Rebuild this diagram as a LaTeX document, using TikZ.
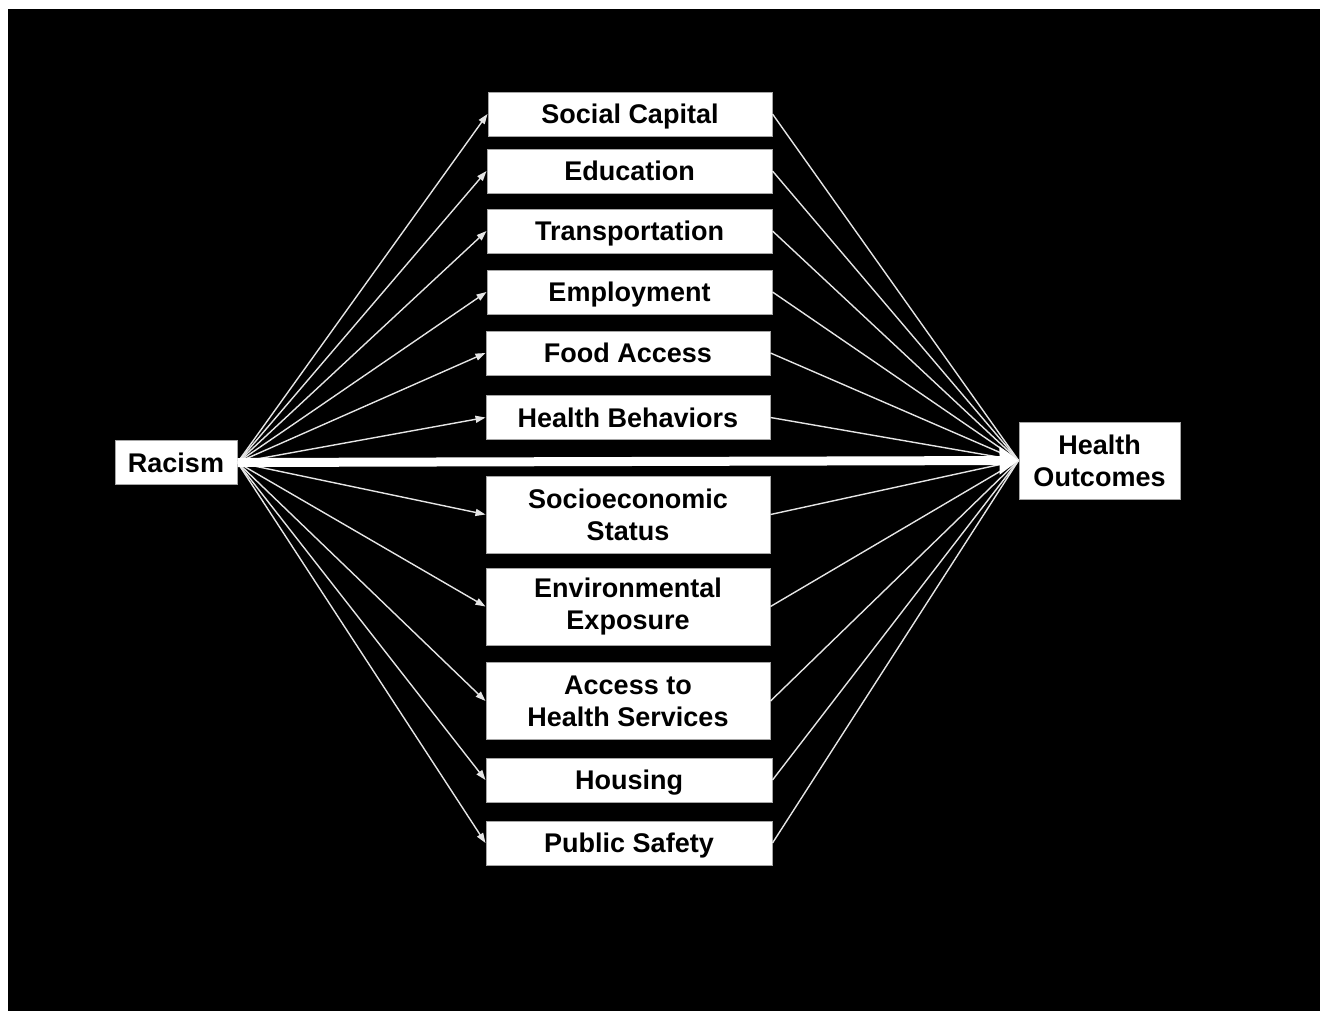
\documentclass[tikz,border=0pt]{standalone}
\usepackage{fontspec}
\setmainfont{Liberation Sans}
\usetikzlibrary{arrows.meta}
\begin{document}
\begin{tikzpicture}[x=1bp,y=-1bp,
  boxbase/.style={draw=gray!70,line width=1bp,fill=white,text=black,inner sep=0pt,
    align=center,font=\fontsize{27bp}{32bp}\selectfont\bfseries},
  box/.style={boxbase,minimum height=44bp,text height=19.3bp,text depth=0pt},
  tall/.style={boxbase,minimum height=77bp},
  thin/.style={draw=white!90!black,line width=1.4bp,-{Triangle[length=10bp,width=7bp]}},
  plain/.style={draw=white!90!black,line width=1.4bp},
  big/.style={draw=white,line width=9bp,-{Triangle[length=19bp,width=27bp]}}
]
\useasboundingbox (0,0) rectangle (1320,1010);
\fill[black] (8,9) rectangle (1340,1030);

\node[box,minimum width=122bp] (racism) at (176,462.5) {Racism};
\node[tall,minimum width=161bp] (health) at (1099.5,460.5) {Health\\Outcomes};

\node[box,minimum width=284bp] (b1) at (630,114) {Social Capital};
\node[box,minimum width=285bp] (b2) at (629.5,171) {Education};
\node[box,minimum width=285bp] (b3) at (629.5,231) {Transportation};
\node[box,minimum width=285bp] (b4) at (629.5,292) {Employment};
\node[box,minimum width=284bp] (b5) at (628,353) {Food Access};
\node[box,minimum width=284bp] (b6) at (628,417.5) {Health Behaviors};
\node[tall,minimum width=284bp] (b7) at (628,514.5) {Socioeconomic\\Status};
\node[tall,minimum width=284bp] (b8) at (628,606.5) {Environmental\\Exposure};
\node[tall,minimum width=284bp] (b9) at (628,701) {Access to\\Health Services};
\node[box,minimum width=286bp] (b10) at (629,780) {Housing};
\node[box,minimum width=286bp] (b11) at (629,843) {Public Safety};

\foreach \b in {b1,b2,b3,b4,b5,b6,b7,b8,b9,b10,b11}{
  \draw[thin] (racism.east) -- (\b.west);
  \draw[plain] (\b.east) -- (health.west);
}
\draw[big] (racism.east) -- (health.west);
\end{tikzpicture}
\end{document}
